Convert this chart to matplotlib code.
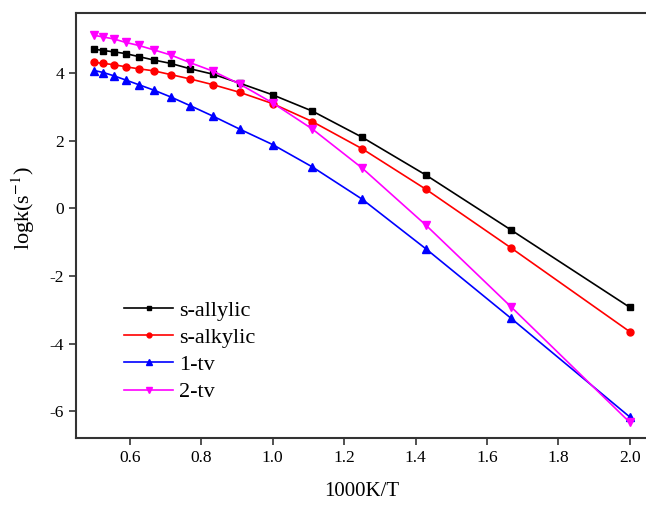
import matplotlib
matplotlib.use("Agg")
import matplotlib.pyplot as plt
from matplotlib.ticker import FormatStrFormatter

# 1000/T for T = 2000 K ... 500 K
inv_t = [0.5, 0.526, 0.556, 0.588, 0.625, 0.667, 0.714, 0.769, 0.833, 0.909,
         1.0, 1.111, 1.25, 1.429, 1.667, 2.0]

# log k (s^-1) for each channel
s_allylic = [4.70, 4.66, 4.62, 4.57, 4.48, 4.38, 4.28, 4.12, 3.96, 3.69,
             3.35, 2.87, 2.10, 0.98, -0.64, -2.93]
s_alkylic = [4.31, 4.28, 4.24, 4.18, 4.12, 4.06, 3.95, 3.82, 3.65, 3.42,
             3.09, 2.56, 1.76, 0.56, -1.17, -3.65]
tv_1 = [4.07, 4.01, 3.91, 3.79, 3.65, 3.49, 3.29, 3.03, 2.72, 2.33,
        1.88, 1.22, 0.27, -1.20, -3.25, -6.17]
tv_2 = [5.11, 5.06, 5.00, 4.90, 4.81, 4.68, 4.53, 4.30, 4.05, 3.66,
        3.11, 2.34, 1.19, -0.50, -2.91, -6.33]

x_ticks = [0.6, 0.8, 1.0, 1.2, 1.4, 1.6, 1.8, 2.0]
y_ticks = [-6, -4, -2, 0, 2, 4]

plt.rcParams["font.family"] = ["Liberation Serif", "DejaVu Serif"]
plt.rcParams["mathtext.fontset"] = "stix"
plt.rcParams["axes.unicode_minus"] = False

fig = plt.figure(figsize=(6.46, 5.05), dpi=100)
ax = fig.add_axes([0.1176, 0.1327, 0.885, 0.8416])

series = [
    (s_allylic, "black", "s", 4.5, "s-allylic"),
    (s_alkylic, "#ff0000", "o", 5, "s-alkylic"),
    (tv_1, "#0000ff", "^", 5.5, "1-tv"),
    (tv_2, "#ff00ff", "v", 5.5, "2-tv"),
]
for vals, color, marker, ms, label in series:
    ax.plot(inv_t, vals, color=color, marker=marker, markersize=ms,
            linewidth=1.2, label=label)

ax.set_xlim(0.449, 2.05)
ax.set_ylim(-6.79, 5.77)
ax.set_xticks(x_ticks)
ax.set_yticks(y_ticks)
ax.xaxis.set_major_formatter(FormatStrFormatter("%.1f"))
ax.tick_params(direction="out", length=5, width=1.2, labelsize=12.5, colors="#333333",
               labelcolor="black")
for side in ["left", "bottom", "top", "right"]:
    ax.spines[side].set_linewidth(1.5)
    ax.spines[side].set_color("#333333")

ax.set_xlabel("1000K/T", fontsize=15, labelpad=12)
ax.set_ylabel(r"logk(s$^{-1}$)", fontsize=16)
ax.yaxis.set_label_coords(-0.068, 0.54)

ax.legend(loc="upper left", bbox_to_anchor=(0.069, 0.345), frameon=False,
          fontsize=16, handlelength=2.2, handletextpad=0.25, labelspacing=0.3,
          markerscale=0.7, borderaxespad=0)

fig.savefig("out.png", dpi=100)
